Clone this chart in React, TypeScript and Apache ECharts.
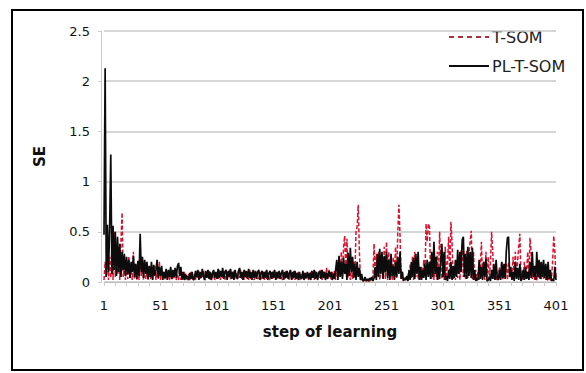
import React, { useEffect, useRef } from "react";
import * as echarts from "echarts";

// steps of learning 1..401 (category labels)
const steps: string[] = Array.from({ length: 401 }, (_, i) => String(i + 1));

// PL-T-SOM, steps 1-80
const plA = [
  0.47, 2.13, 0.05, 0.57, 0.1, 0.55, 1.27, 0.08, 0.56, 0.12,
  0.5, 0.06, 0.45, 0.1, 0.38, 0.05, 0.3, 0.12, 0.28, 0.06,
  0.25, 0.08, 0.22, 0.04, 0.2, 0.1, 0.26, 0.05, 0.18, 0.03,
  0.21, 0.06, 0.48, 0.1, 0.25, 0.04, 0.22, 0.08, 0.2, 0.03,
  0.16, 0.05, 0.2, 0.02, 0.17, 0.06, 0.12, 0.22, 0.04, 0.15,
  0.06, 0.16, 0.02, 0.1, 0.04, 0.13, 0.02, 0.12, 0.05, 0.15,
  0.03, 0.12, 0.05, 0.14, 0.04, 0.16, 0.19, 0.06, 0.15, 0.02,
  0.1, 0.02, 0.08, 0.03, 0.06, 0.02, 0.09, 0.03, 0.1, 0.02,
];
// PL-T-SOM, steps 81-200
const plB = [
  0.03, 0.11, 0.05, 0.12, 0.02, 0.1, 0.04, 0.13, 0.06, 0.02, 0.11, 0.04, 0.12, 0.03, 0.1, 0.02, 0.09, 0.12, 0.04, 0.1,
  0.03, 0.13, 0.04, 0.11, 0.05, 0.14, 0.03, 0.1, 0.12, 0.02, 0.11, 0.05, 0.13, 0.03, 0.1, 0.02, 0.12, 0.06, 0.03, 0.11,
  0.14, 0.04, 0.1, 0.02, 0.12, 0.05, 0.11, 0.03, 0.13, 0.04, 0.1, 0.02, 0.12, 0.04, 0.11, 0.03, 0.1, 0.12, 0.02, 0.09,
  0.11, 0.03, 0.1, 0.04, 0.12, 0.02, 0.09, 0.11, 0.03, 0.1, 0.04, 0.12, 0.02, 0.1, 0.04, 0.11, 0.03, 0.09, 0.12, 0.02,
  0.1, 0.04, 0.11, 0.03, 0.09, 0.12, 0.02, 0.1, 0.04, 0.11, 0.03, 0.09, 0.02, 0.1, 0.04, 0.03, 0.11, 0.02, 0.09, 0.04,
  0.1, 0.03, 0.09, 0.02, 0.11, 0.04, 0.12, 0.03, 0.1, 0.02, 0.09, 0.11, 0.03, 0.12, 0.04, 0.1, 0.02, 0.09, 0.03, 0.11,
];
// PL-T-SOM, steps 201-401
const plC = [
  0.05, 0.1, 0.02, 0.08, 0.03, 0.12, 0.22, 0.02, 0.26, 0.05,
  0.2, 0.03, 0.24, 0.08, 0.18, 0.02, 0.29, 0.06, 0.34, 0.1,
  0.25, 0.04, 0.18, 0.02, 0.2, 0.05, 0.14, 0.02, 0.08, 0.01,
  0.02, 0.05, 0.01, 0.03, 0.01, 0.04, 0.02, 0.05, 0.01, 0.04,
  0.15, 0.02, 0.28, 0.05, 0.33, 0.08, 0.3, 0.03, 0.26, 0.1,
  0.3, 0.04, 0.22, 0.02, 0.28, 0.06, 0.16, 0.02, 0.2, 0.05,
  0.25, 0.08, 0.3, 0.03, 0.1, 0.01, 0.04, 0.02, 0.06, 0.01,
  0.12, 0.02, 0.2, 0.05, 0.24, 0.03, 0.28, 0.08, 0.3, 0.02,
  0.15, 0.02, 0.12, 0.04, 0.18, 0.02, 0.22, 0.05, 0.2, 0.03,
  0.3, 0.05, 0.4, 0.08, 0.25, 0.02, 0.15, 0.03, 0.22, 0.38,
  0.05, 0.3, 0.02, 0.06, 0.01, 0.12, 0.03, 0.2, 0.02, 0.16,
  0.04, 0.22, 0.05, 0.32, 0.08, 0.3, 0.1, 0.42, 0.45, 0.05,
  0.28, 0.03, 0.35, 0.06, 0.3, 0.04, 0.34, 0.02, 0.12, 0.01,
  0.04, 0.02, 0.22, 0.03, 0.15, 0.02, 0.2, 0.05, 0.23, 0.01,
  0.02, 0.05, 0.01, 0.12, 0.03, 0.18, 0.02, 0.22, 0.04, 0.02,
  0.12, 0.02, 0.2, 0.04, 0.18, 0.03, 0.3, 0.44, 0.45, 0.05,
  0.15, 0.02, 0.1, 0.01, 0.2, 0.03, 0.14, 0.02, 0.18, 0.01,
  0.04, 0.12, 0.02, 0.15, 0.03, 0.1, 0.02, 0.2, 0.04, 0.3,
  0.05, 0.16, 0.02, 0.3, 0.05, 0.22, 0.03, 0.2, 0.05, 0.22,
  0.04, 0.18, 0.02, 0.2, 0.03, 0.12, 0.01, 0.03, 0.01, 0.15,
  0.02,
];

// T-SOM, steps 1-80
const tA = [
  0.02, 0.2, 0.05, 0.3, 0.02, 0.25, 0.04, 0.35, 0.02, 0.5,
  0.05, 0.3, 0.08, 0.22, 0.02, 0.4, 0.69, 0.05, 0.15, 0.02,
  0.2, 0.03, 0.25, 0.04, 0.15, 0.02, 0.3, 0.03, 0.18, 0.02,
  0.1, 0.02, 0.22, 0.05, 0.15, 0.02, 0.2, 0.03, 0.1, 0.02,
  0.14, 0.03, 0.08, 0.02, 0.12, 0.16, 0.02, 0.1, 0.03, 0.2,
  0.02, 0.12, 0.03, 0.1, 0.02, 0.12, 0.03, 0.1, 0.02, 0.06,
  0.02, 0.08, 0.03, 0.1, 0.02, 0.07, 0.02, 0.12, 0.02, 0.09,
  0.02, 0.1, 0.02, 0.07, 0.02, 0.08, 0.02, 0.1, 0.02, 0.04,
];
// T-SOM, steps 81-200
const tB = [
  0.08, 0.02, 0.1, 0.04, 0.11, 0.03, 0.09, 0.05, 0.12, 0.03, 0.02, 0.1, 0.04, 0.11, 0.02, 0.09, 0.03, 0.1, 0.02, 0.08,
  0.1, 0.03, 0.12, 0.02, 0.09, 0.04, 0.11, 0.02, 0.1, 0.03, 0.09, 0.12, 0.02, 0.1, 0.04, 0.11, 0.03, 0.09, 0.02, 0.1,
  0.04, 0.12, 0.03, 0.1, 0.02, 0.11, 0.04, 0.09, 0.02, 0.12, 0.03, 0.1, 0.04, 0.02, 0.09, 0.11, 0.03, 0.04, 0.1, 0.02,
  0.04, 0.1, 0.02, 0.11, 0.03, 0.09, 0.04, 0.02, 0.1, 0.03, 0.11, 0.04, 0.09, 0.02, 0.1, 0.03, 0.09, 0.04, 0.02, 0.1,
  0.03, 0.11, 0.04, 0.09, 0.02, 0.1, 0.04, 0.03, 0.11, 0.02, 0.09, 0.04, 0.1, 0.03, 0.02, 0.09, 0.04, 0.1, 0.03, 0.04,
  0.09, 0.02, 0.04, 0.1, 0.03, 0.09, 0.02, 0.11, 0.04, 0.03, 0.1, 0.04, 0.12, 0.02, 0.09, 0.11, 0.03, 0.14, 0.04, 0.12,
];
// T-SOM, steps 201-401
const tC = [
  0.08, 0.02, 0.1, 0.03, 0.12, 0.02, 0.15, 0.04, 0.2, 0.05,
  0.3, 0.05, 0.35, 0.46, 0.08, 0.43, 0.04, 0.2, 0.02, 0.12,
  0.03, 0.2, 0.05, 0.5, 0.55, 0.77, 0.3, 0.02, 0.05, 0.01,
  0.01, 0.02, 0.01, 0.02, 0.01, 0.01, 0.02, 0.01, 0.06, 0.38,
  0.03, 0.28, 0.05, 0.3, 0.02, 0.1, 0.25, 0.04, 0.35, 0.03,
  0.4, 0.02, 0.3, 0.05, 0.18, 0.02, 0.25, 0.03, 0.35, 0.04,
  0.5, 0.77, 0.45, 0.02, 0.1, 0.01, 0.02, 0.04, 0.01, 0.08,
  0.02, 0.18, 0.04, 0.25, 0.02, 0.3, 0.05, 0.2, 0.03, 0.12,
  0.02, 0.15, 0.04, 0.22, 0.05, 0.58, 0.4, 0.58, 0.55, 0.1,
  0.03, 0.25, 0.02, 0.2, 0.05, 0.3, 0.02, 0.5, 0.2, 0.03,
  0.15, 0.02, 0.35, 0.04, 0.2, 0.45, 0.05, 0.6, 0.4, 0.03,
  0.12, 0.02, 0.18, 0.04, 0.22, 0.02, 0.3, 0.38, 0.05, 0.2,
  0.02, 0.32, 0.04, 0.28, 0.4, 0.51, 0.03, 0.3, 0.02, 0.12,
  0.01, 0.1, 0.02, 0.15, 0.4, 0.03, 0.2, 0.02, 0.3, 0.05,
  0.25, 0.02, 0.2, 0.5, 0.3, 0.03, 0.12, 0.01, 0.1, 0.02,
  0.15, 0.03, 0.2, 0.02, 0.12, 0.04, 0.18, 0.02, 0.2, 0.05,
  0.1, 0.02, 0.25, 0.04, 0.3, 0.03, 0.2, 0.35, 0.48, 0.05,
  0.12, 0.02, 0.2, 0.03, 0.12, 0.3, 0.02, 0.44, 0.3, 0.03,
  0.1, 0.02, 0.1, 0.01, 0.15, 0.04, 0.2, 0.02, 0.12, 0.03,
  0.1, 0.02, 0.05, 0.01, 0.06, 0.02, 0.03, 0.2, 0.46, 0.3,
  0.03,
];

const plTSom = [...plA, ...plB, ...plC];
const tSom = [...tA, ...tB, ...tC];

const legendNames = ["T-SOM", "PL-T-SOM"];

const FONT = "DejaVu Sans";
const RED = "#dd1030";
const BLACK = "#0c0c0c";

export default function App() {
  const ref = useRef<HTMLDivElement>(null);
  useEffect(() => {
    if (!ref.current) return;
    const chart = echarts.init(ref.current, undefined, { renderer: "svg" });
    chart.setOption({
      animation: false,
      backgroundColor: "#fff",
      textStyle: { fontFamily: FONT },
      grid: { left: 104, right: 30, top: 31, bottom: 91 },
      xAxis: {
        type: "category",
        data: steps,
        boundaryGap: false,
        name: "step of learning",
        nameLocation: "middle",
        nameGap: 42,
        nameTextStyle: { fontFamily: FONT, fontSize: 15, fontWeight: "bold", color: "#111" },
        axisLine: { lineStyle: { color: "#bbb", width: 1 } },
        axisTick: { interval: 9, length: 4, lineStyle: { color: "#ccc" } },
        axisLabel: { interval: 49, margin: 17, fontFamily: FONT, fontSize: 13, color: "#111" },
        splitLine: { show: false },
      },
      yAxis: {
        type: "value",
        min: 0,
        max: 2.5,
        interval: 0.5,
        offset: 3,
        name: "SE",
        nameLocation: "middle",
        nameGap: 54,
        nameTextStyle: { fontFamily: FONT, fontSize: 15, fontWeight: "bold", color: "#111" },
        axisLine: { show: true, lineStyle: { color: "#ccc", width: 1 } },
        axisTick: { show: true, length: 3, lineStyle: { color: "#ccc" } },
        axisLabel: { margin: 11, fontFamily: FONT, fontSize: 13, color: "#111" },
        splitLine: { lineStyle: { color: "#c8c8c8", width: 1.5 } },
      },
      series: [
        {
          name: legendNames[0],
          type: "line",
          data: tSom,
          symbol: "none",
          lineStyle: { color: RED, width: 1.5, type: [4, 2] },
          itemStyle: { color: RED },
          z: 2,
        },
        {
          name: legendNames[1],
          type: "line",
          data: plTSom,
          symbol: "none",
          lineStyle: { color: BLACK, width: 1.7 },
          itemStyle: { color: BLACK },
          z: 3,
        },
      ],
      graphic: [
        {
          type: "line",
          shape: { x1: 449, y1: 37, x2: 489, y2: 37 },
          style: { stroke: "#a83040", lineWidth: 2, lineDash: [5, 4] },
          silent: true,
        },
        {
          type: "text",
          x: 492,
          y: 37,
          style: {
            text: legendNames[0],
            font: `16px "${FONT}"`,
            fill: "#222",
            verticalAlign: "middle",
            align: "left",
          },
          silent: true,
        },
        {
          type: "line",
          shape: { x1: 449, y1: 66, x2: 489, y2: 66 },
          style: { stroke: BLACK, lineWidth: 2 },
          silent: true,
        },
        {
          type: "text",
          x: 492,
          y: 66,
          style: {
            text: legendNames[1],
            font: `16px "${FONT}"`,
            fill: "#222",
            verticalAlign: "middle",
            align: "left",
          },
          silent: true,
        },
        {
          type: "rect",
          shape: { x: 12, y: 10, width: 571, height: 360 },
          style: { fill: "none", stroke: "#000", lineWidth: 2 },
          silent: true,
          z: 10,
        },
      ],
    });
    return () => chart.dispose();
  }, []);
  return (
    <div
      ref={ref}
      style={{ position: "absolute", left: 0, top: 0, width: 586, height: 373 }}
    />
  );
}
